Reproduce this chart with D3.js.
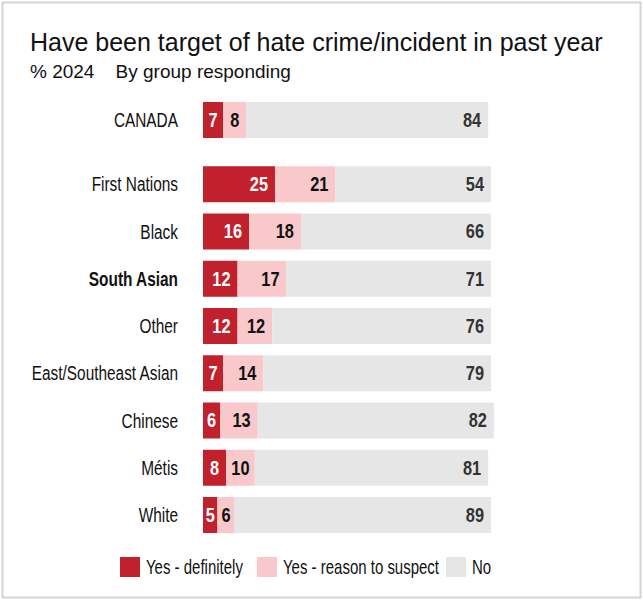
<!DOCTYPE html>
<html lang="en">
<head>
  <meta charset="UTF-8">
  <title>Hate crime/incident in past year</title>
  <script src="https://d3js.org/d3.v7.min.js"></script>
  <style>
    body { margin: 0; background: #fff; }
    svg { display: block; }
    text { font-family: "Liberation Sans", Arial, sans-serif; }
    .title { fill: #111; }
    .lbl { font-size: 20px; fill: #111; }
    .val { font-size: 19.5px; font-weight: bold; }
  </style>
</head>
<body>
  <svg id="chart" width="643" height="600"></svg>

  <script>
    // data
    const groups = ['CANADA', 'First Nations', 'Black', 'South Asian', 'Other',
      'East/Southeast Asian', 'Chinese', 'Métis', 'White'];
    const definitely = [7, 25, 16, 12, 12, 7, 6, 8, 5];
    const suspect = [8, 21, 18, 17, 12, 14, 13, 10, 6];
    const no = [84, 54, 66, 71, 76, 79, 82, 81, 89];
    const seriesNames = ['Yes - definitely', 'Yes - reason to suspect', 'No'];
    const colors = ['#c1212c', '#f8c8cb', '#e6e6e6'];
    const labelColors = ['#fff', '#111', '#333'];

    const svg = d3.select('#chart');
    const width = 643, height = 600;
    // the original uses a condensed face; squeeze Liberation Sans to match
    const squeeze = 0.77;
    const valSqueeze = 0.84;

    // frame
    svg.append('rect')
      .attr('x', 2.5).attr('y', 2.5)
      .attr('width', width - 5).attr('height', height - 5)
      .attr('fill', 'none').attr('stroke', '#d4d4d4').attr('stroke-width', 2);

    // titles
    svg.append('text').attr('class', 'title')
      .attr('x', 30).attr('y', 51)
      .attr('font-size', 25)
      .text('Have been target of hate crime/incident in past year');
    svg.append('text').attr('class', 'title')
      .attr('x', 30).attr('y', 78)
      .attr('font-size', 19)
      .attr('xml:space', 'preserve')
      .text('% 2024    By group responding');

    // scales
    const x = d3.scaleLinear().domain([0, 100]).range([203, 491]);
    // CANADA sits a bit apart from the groups below
    const slot = (d, i) => i === 0 ? 0 : i + 0.36;
    const y = d3.scaleLinear().domain([0, 8.36]).range([120, 515]);
    const barH = 36;

    const rows = groups.map((g, i) => {
      const vals = [definitely[i], suspect[i], no[i]];
      let acc = 0;
      const segs = vals.map((v, k) => {
        const s = { k, v, x0: acc, x1: acc + v };
        acc += v;
        return s;
      });
      return { g, i, segs };
    });

    const row = svg.selectAll('g.row')
      .data(rows)
      .join('g')
      .attr('class', 'row')
      .attr('transform', d => `translate(0,${y(slot(d, d.i))})`);

    row.append('text')
      .attr('class', 'lbl')
      .attr('transform', `translate(178,0) scale(${squeeze},1)`)
      .attr('dy', '0.35em')
      .attr('text-anchor', 'end')
      .attr('font-weight', d => d.g === 'South Asian' ? 'bold' : 'normal')
      .text(d => d.g);

    row.selectAll('rect')
      .data(d => d.segs)
      .join('rect')
      .attr('x', s => x(s.x0))
      .attr('y', -barH / 2)
      .attr('width', s => x(s.x1) - x(s.x0))
      .attr('height', barH)
      .attr('fill', s => colors[s.k]);

    row.selectAll('text.val')
      .data(d => d.segs)
      .join('text')
      .attr('class', 'val')
      .attr('dy', '0.35em')
      .attr('text-anchor', 'end')
      .attr('fill', s => labelColors[s.k])
      .text(s => s.v)
      .attr('transform', function (s) {
        const w = x(s.x1) - x(s.x0);
        const tw = this.getComputedTextLength() * valSqueeze;
        const pad = s.k === 2 ? 7 : Math.min(7, Math.max(1.5, (w - tw) / 2));
        return `translate(${x(s.x1) - pad},0) scale(${valSqueeze},1)`;
      });

    // legend
    const legendX = [120, 257, 446];
    const leg = svg.selectAll('g.leg')
      .data(seriesNames)
      .join('g')
      .attr('class', 'leg')
      .attr('transform', (d, i) => `translate(${legendX[i]},567)`);
    leg.append('rect')
      .attr('x', 0).attr('y', -10)
      .attr('width', 20).attr('height', 20)
      .attr('fill', (d, i) => colors[i]);
    leg.append('text')
      .attr('class', 'lbl')
      .attr('transform', `translate(26,0) scale(0.75,1)`)
      .attr('dy', '0.35em')
      .text(d => d);
  </script>
</body>
</html>
